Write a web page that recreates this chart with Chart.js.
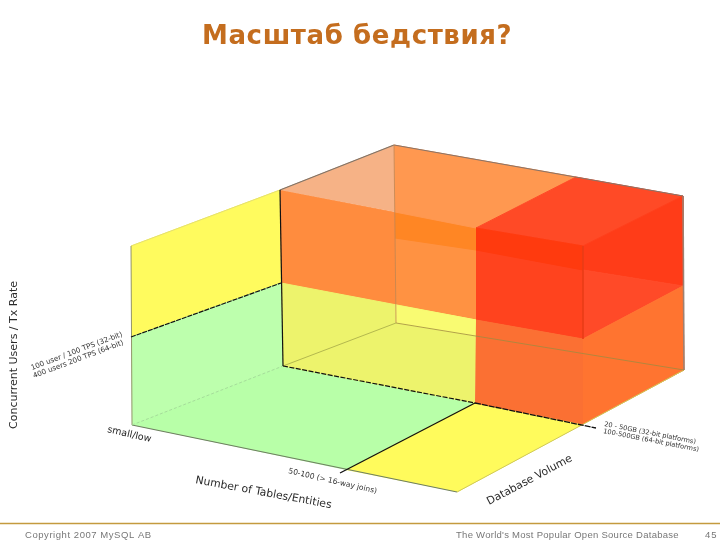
<!DOCTYPE html>
<html>
<head>
<meta charset="utf-8">
<title>Масштаб бедствия?</title>
<script src="https://cdn.jsdelivr.net/npm/chart.js@4"></script>
<style>
    html, body { margin: 0; padding: 0; background: #fff; }
    canvas { display: block; }
</style>
</head>
<body>
<canvas id="cubeChart" width="720" height="540"></canvas>
<script>
// Outlines, as [x, y] in picture units
const wallYellow = [[131, 246], [280, 190], [281, 283], [131, 337]];
const wallGreen = [[131, 337], [281, 283], [283, 366], [132, 425]];
const floorGreen = [[132, 425], [283, 366], [475, 403], [346, 470]];
const floorYellow = [[346, 470], [475, 403], [583, 424], [457, 492]];
const midOrange = [[280, 190], [476, 228], [476, 320], [281, 283]];
const midOrangeBack = [[395, 212], [476, 228], [476, 320], [395, 305]];
const midBand = [[395, 212], [476, 228], [476, 250], [395, 238]];
const midOlive = [[281, 283], [476, 320], [475, 403], [283, 366]];
const midPale = [[395, 305], [476, 320], [476, 336], [396, 323]];
const topPeach = [[280, 190], [394, 145], [395, 212]];
const topOrange = [[394, 145], [576, 177], [476, 228], [395, 212]];
const topRed = [[476, 228], [576, 177], [683, 196], [583, 246]];
const frontRed = [[476, 228], [583, 246], [583, 339], [476, 320]];
const frontRedBand = [[476, 228], [583, 246], [583, 270], [476, 250]];
const sideRedBand = [[583, 246], [683, 196], [683, 286], [583, 270]];
const sideRed = [[583, 270], [683, 286], [583, 339]];
const frontLow = [[476, 320], [583, 339], [583, 424], [475, 403]];
const sideLow = [[583, 339], [683, 286], [684, 370], [583, 424]];

// Edges
const edgeLeft = [[131, 246], [132, 425]];
const edgeFront = [[132, 425], [457, 492]];
const edgeFrontRight = [[457, 492], [684, 370]];
const edgeRight = [[683, 196], [684, 370]];
const edgeTopBack = [[394, 145], [683, 196]];
const edgeTopLeft = [[280, 190], [394, 145]];
const edgeTopWall = [[131, 246], [280, 190]];
const edgeBackPost = [[394, 145], [396, 323]];
const edgeFloorLeft = [[132, 425], [283, 366]];
const edgeFloorBack = [[283, 366], [396, 323]];
const edgeFloorRight = [[396, 323], [684, 370]];
const edgeRedPost = [[583, 246], [583, 339]];
const gridWall = [[131, 337], [281, 283]];
const gridPost = [[280, 190], [283, 366]];
const gridFloorBack = [[283, 366], [475, 403]];
const gridFloorCross = [[340, 473], [475, 403]];
const gridFloorRight = [[475, 403], [596, 428]];
const footerRule = [[0, 523.5], [720, 523.5]];

// Texts
const titleText = 'Масштаб бедствия?';
const yAxisTitle = 'Concurrent Users / Tx Rate';
const xAxisTitle = 'Number of Tables/Entities';
const zAxisTitle = 'Database Volume';
const yTickLines = ['100 user / 100 TPS (32-bit)', '400 users 200 TPS (64-bit)'];
const xTicks = ['small/low', '50-100 (> 16-way joins)'];
const zTickLines = ['20 - 50GB (32-bit platforms)', '100-500GB (64-bit platforms)'];
const footerTexts = ['Copyright 2007 MySQL AB', "The World's Most Popular Open Source Database", '45'];

function area(points, color) {
    return {
        data: points.map(([x, y]) => ({ x, y })),
        showLine: true,
        fill: 'shape',
        backgroundColor: color,
        borderColor: color,
        borderWidth: 1,
        pointRadius: 0
    };
}

function edge(points, color, width, dash) {
    return {
        data: points.map(([x, y]) => ({ x, y })),
        showLine: true,
        fill: false,
        borderColor: color,
        borderWidth: width,
        borderDash: dash || [],
        pointRadius: 0
    };
}

// Painter's order, back to front
const layers = [
    area(wallYellow, '#fffb5e'),
    area(wallGreen, '#bdffad'),
    area(floorGreen, '#b8ffa8'),
    area(floorYellow, '#fffb5c'),
    area(midOrange, '#ff8c3e'),
    area(midOrangeBack, '#ff9242'),
    area(midBand, '#ff8624'),
    area(midOlive, '#edf36c'),
    area(midPale, '#f9fb72'),
    area(topPeach, '#f6b286'),
    area(topOrange, '#ff9850'),
    area(topRed, '#ff4a26'),
    area(frontRed, '#ff431e'),
    area(frontRedBand, '#ff3a0e'),
    area(sideRedBand, '#ff3c18'),
    area(sideRed, '#ff4a28'),
    area(frontLow, '#fb7033'),
    area(sideLow, '#ff7430'),
    edge(edgeTopWall, '#e4df70', 1),
    edge(edgeLeft, '#94946c', 1),
    edge(edgeFront, '#6f7f62', 1.2),
    edge(edgeFrontRight, '#cfc858', 1),
    edge(edgeRight, '#a08070', 1.6),
    edge(edgeTopBack, '#8a7468', 1.2),
    edge(edgeTopLeft, '#7f7468', 1.2),
    edge(edgeBackPost, '#c08450', 0.8),
    edge(edgeFloorLeft, '#a5dc9a', 1, [3, 2]),
    edge(edgeFloorBack, '#b4b84e', 1),
    edge(edgeFloorRight, '#a08a40', 0.8),
    edge(edgeRedPost, '#e83c18', 0.8),
    edge(gridWall, '#111', 1.2, [5, 1]),
    edge(gridPost, '#111', 1.2),
    edge(gridFloorBack, '#111', 1.2, [5, 1.5]),
    edge(gridFloorCross, '#111', 1.3),
    edge(gridFloorRight, '#111', 1.3, [6, 1]),
    edge(footerRule, '#c49a3e', 1.6)
];

// Where each text sits: text, x, y, rotation in degrees, font, colour, letter spacing
const textPlacement = [
    [titleText, 202, 43.5, 0, 'bold 26px "DejaVu Sans"', '#c46d1e', '0.6px'],
    [yAxisTitle, 16.5, 429, -90, '11px "DejaVu Sans"', '#2a2a2a', '0px'],
    [xAxisTitle, 195, 483, 10.5, '10.8px "DejaVu Sans"', '#2a2a2a', '0px'],
    [zAxisTitle, 489, 505, -28, '10.8px "DejaVu Sans"', '#2a2a2a', '0px'],
    [yTickLines[0], 32, 370, -20.5, '7.2px "DejaVu Sans"', '#333', '0px'],
    [yTickLines[1], 34, 378, -20.5, '7.2px "DejaVu Sans"', '#333', '0px'],
    [xTicks[0], 107, 432, 13, '9.5px "DejaVu Sans"', '#222', '0px'],
    [xTicks[1], 288, 473, 13, '7.5px "DejaVu Sans"', '#333', '0px'],
    [zTickLines[0], 604, 426, 11, '6.6px "DejaVu Sans"', '#333', '0px'],
    [zTickLines[1], 603, 433, 11, '6.6px "DejaVu Sans"', '#333', '0px'],
    [footerTexts[0], 25, 538, 0, '9.5px "Liberation Sans"', '#777', '0.55px'],
    [footerTexts[1], 456, 538, 0, '9.5px "Liberation Sans"', '#777', '0.27px'],
    [footerTexts[2], 705, 538, 0, '9.5px "Liberation Sans"', '#777', '1px']
];

// Chart.js has no rotated free text, so draw it through the scales
const textPlugin = {
    id: 'cubeTexts',
    afterDatasetsDraw(chart) {
        const { ctx, scales } = chart;
        textPlacement.forEach(([text, x, y, angle, font, color, spacing]) => {
            ctx.save();
            ctx.translate(scales.x.getPixelForValue(x), scales.y.getPixelForValue(y));
            ctx.rotate(angle * Math.PI / 180);
            ctx.font = font;
            ctx.fillStyle = color;
            ctx.letterSpacing = spacing;
            ctx.textBaseline = 'alphabetic';
            ctx.fillText(text, 0, 0);
            ctx.restore();
        });
    }
};

new Chart(document.getElementById('cubeChart').getContext('2d'), {
    type: 'scatter',
    // first dataset is painted last
    data: { datasets: layers.slice().reverse() },
    plugins: [textPlugin],
    options: {
        responsive: false,
        animation: false,
        layout: { padding: 0 },
        elements: { line: { tension: 0 } },
        plugins: {
            legend: { display: false },
            tooltip: { enabled: false }
        },
        scales: {
            x: { type: 'linear', min: 0, max: 720, display: false },
            y: { type: 'linear', min: 0, max: 540, reverse: true, display: false }
        }
    }
});
</script>
</body>
</html>
